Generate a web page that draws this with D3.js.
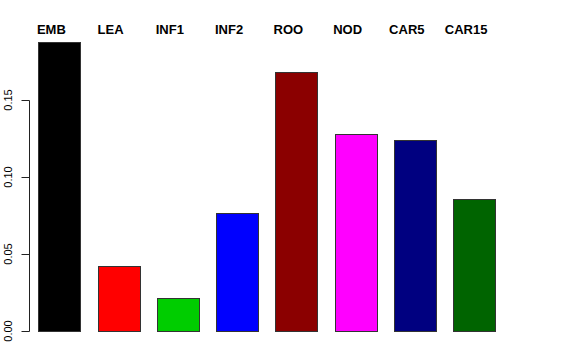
<!DOCTYPE html>
<html>
<head>
<meta charset="utf-8">
<script src="https://cdn.jsdelivr.net/npm/d3@7"></script>
<style>
html,body{margin:0;padding:0;background:#fff;}
svg{display:block;}
text{font-family:"Liberation Sans",Arial,Helvetica,sans-serif;}
</style>
</head>
<body>
<svg id="chart" width="576" height="360"></svg>
<script>
const categories = ["EMB","LEA","INF1","INF2","ROO","NOD","CAR5","CAR15"];
const values = [0.1875, 0.0424, 0.0216, 0.0768, 0.1680, 0.1277, 0.1240, 0.0859];
const colors = ["#000000","#FF0000","#00CD00","#0000FF","#8B0000","#FF00FF","#000080","#006400"];
const yTicks = [0, 0.05, 0.10, 0.15];
const yTickLabels = ["0.00","0.05","0.10","0.15"];

const svg = d3.select("#chart");
const W = 576, H = 360;
svg.append("rect").attr("width",W).attr("height",H).attr("fill","#fff");

const x = d3.scaleBand().domain(categories).range([29.7, 503.7])
  .paddingInner(0.29).paddingOuter(0.145);
const y = d3.scaleLinear().domain([0, 0.15]).range([331, 100]);

// bars
svg.append("g").selectAll("rect").data(categories).join("rect")
  .attr("x", d => Math.round(x(d)) + 0.5)
  .attr("y", (d,i) => Math.round(y(values[i])) + 0.5)
  .attr("width", Math.round(x.bandwidth()))
  .attr("height", (d,i) => Math.round(y(0)) - Math.round(y(values[i])))
  .attr("fill", (d,i) => colors[i])
  .attr("stroke", "#333")
  .attr("stroke-width", 1);

// y axis (R style)
const axisX = 29;
const ag = svg.append("g").attr("transform", `translate(${axisX + 0.5},0)`);
ag.append("line")
  .attr("x1",0).attr("x2",0)
  .attr("y1", Math.round(y(yTicks[0])) + 0.5)
  .attr("y2", Math.round(y(yTicks[yTicks.length-1])) + 0.5)
  .attr("stroke","#222");
ag.selectAll("line.tick").data(yTicks).join("line").attr("class","tick")
  .attr("x1",-8).attr("x2",0)
  .attr("y1", d => Math.round(y(d)) + 0.5)
  .attr("y2", d => Math.round(y(d)) + 0.5)
  .attr("stroke","#222");
svg.append("g").selectAll("text").data(yTicks).join("text")
  .attr("transform", d => `translate(12,${y(d)}) rotate(-90)`)
  .attr("text-anchor","middle")
  .attr("font-size", 11)
  .attr("fill","#000")
  .text((d,i) => yTickLabels[i]);

// category labels on top
svg.append("g").selectAll("text").data(categories).join("text")
  .attr("x", d => x(d) + x.bandwidth()/2 - 8)
  .attr("y", 34)
  .attr("text-anchor","middle")
  .attr("font-size", 13)
  .attr("font-weight","bold")
  .attr("fill","#000")
  .text(d => d);
</script>
</body>
</html>
